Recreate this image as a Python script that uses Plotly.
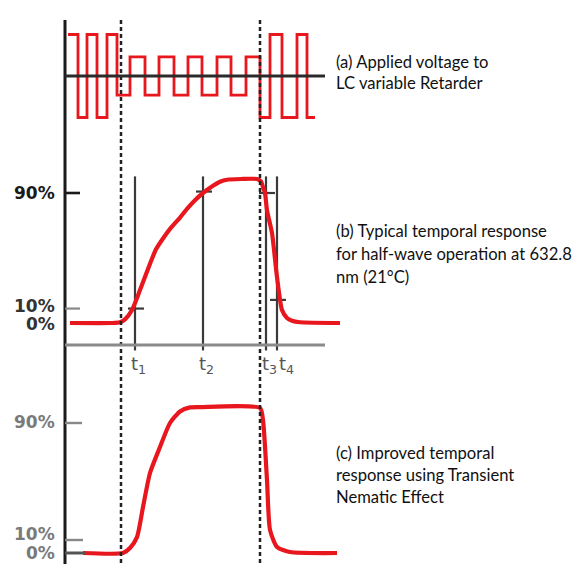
import plotly.graph_objects as go

# ---------------- data ----------------
# (a) applied voltage: square-wave transition times (arbitrary time units) and levels (normalised)
volt_t = [-53, -43, -34, -24, -14, -4, 9, 24, 38, 53, 67, 81, 96, 110, 125, 139, 149, 161, 176, 186, 194]
volt_v = [1, -1, 1, -1, 1, -0.46, 0.46, -0.46, 0.46, -0.46, 0.46, -0.46, 0.46, -0.46, 0.46, -1, 1, -1, 1, -1, -1]

# (b) typical temporal response (%)
resp_b_t = [-51, -9, -1, 4, 11, 19, 29, 35, 42, 50, 59, 66, 74, 82, 92, 99, 106, 120, 136, 140, 142, 144, 146, 151, 156, 161, 166, 171, 179, 219]
resp_b_v = [0, 0, 0.5, 2.5, 9, 22.8, 41, 51, 58.5, 66, 73, 79, 85, 90, 95, 97.8, 99.2, 99.7, 99.7, 98, 94, 90, 78, 62.3, 31.8, 9, 3.5, 1.5, 0.5, 0]

# (c) improved temporal response using transient nematic effect (%)
resp_c_t = [-38, 2, 9, 16, 22, 29, 39, 49, 59, 69, 79, 139, 142, 146, 149, 156, 169, 216]
resp_c_v = [0, 0, 3.5, 11, 31.8, 55.4, 73.4, 90, 98, 100.8, 101, 100.4, 92, 50.5, 16, 4.2, 0.7, 0]

# event times (voltage switching) and response time markers
switch_times = [0, 139]
t_marks = [14, 82, 145, 156]
t_mark_levels = [10, 91, 90, 16]
t_names = ["t<sub>1</sub>", "t<sub>2</sub>", "t<sub>3</sub>", "t<sub>4</sub>"]

pct_names = ["90%", "10%", "0%"]
pct_vals = [90, 10, 0]

a_lines = ["(a) Applied voltage to", "LC variable Retarder"]
b_lines = ["(b) Typical temporal response", "for half-wave operation at 632.8", "nm (21°C)"]
c_lines = ["(c) Improved temporal", "response using Transient", "Nematic Effect"]

# ---------------- layout helpers ----------------
OFF = 8  # page body margin
W, H = 584 - OFF, 564 - OFF
X0 = 121  # reference pixel of time zero
T_AXIS = -56  # time of vertical axis


def ydom(top_px, bot_px):
    return [max(0.0, 1 - (bot_px - OFF) / H), min(1.0, 1 - (top_px - OFF) / H)]


def yrng(top_px, bot_px, zero_px, ppu):
    return [(zero_px - bot_px) / ppu, (zero_px - max(top_px, OFF)) / ppu]


def py(px):
    return 1 - (px - OFF) / H


def pxx(px):
    return (px - OFF) / W


PPU_V = 41.5
PPU_P = 130 / 90.0

RED = "#e8161d"

fig = go.Figure()
fig.add_trace(go.Scatter(x=volt_t, y=volt_v, mode="lines", line=dict(color=RED, width=2.8, shape="hv"),
                         xaxis="x", yaxis="y", hoverinfo="skip"))
fig.add_trace(go.Scatter(x=resp_b_t, y=resp_b_v, mode="lines", line=dict(color=RED, width=4.2, shape="spline", smoothing=0.6),
                         xaxis="x", yaxis="y2", hoverinfo="skip"))
fig.add_trace(go.Scatter(x=resp_c_t, y=resp_c_v, mode="lines", line=dict(color=RED, width=4.2, shape="spline", smoothing=0.6),
                         xaxis="x", yaxis="y3", hoverinfo="skip"))

shapes = []
top_paper = py(20)
# main vertical axis
shapes.append(dict(type="line", xref="x", yref="paper", x0=T_AXIS, x1=T_AXIS, y0=top_paper, y1=0,
                   line=dict(color="#1a1a1a", width=3)))
# dashed switching lines
for st in switch_times:
    shapes.append(dict(type="line", xref="x", yref="paper", x0=st, x1=st, y0=top_paper, y1=0,
                       line=dict(color="#222222", width=2.5, dash="4px,3px")))
# (a) horizontal axis
shapes.append(dict(type="line", xref="x", yref="y", x0=T_AXIS, x1=204, y0=0, y1=0,
                   line=dict(color="#2a2a2a", width=3)))
# (b) time axis
shapes.append(dict(type="line", xref="x", yref="y2", x0=T_AXIS, x1=204, y0=-15.2, y1=-15.2,
                   line=dict(color="#8a8a8a", width=3)))
# t markers
for tm, lv in zip(t_marks, t_mark_levels):
    shapes.append(dict(type="line", xref="x", yref="y2", x0=tm, x1=tm, y0=-19, y1=101.5, layer="below",
                       line=dict(color="#3a3a3a", width=2.2)))
    shapes.append(dict(type="line", xref="x", yref="y2", x0=tm - 7, x1=tm + 9, y0=lv, y1=lv, layer="below",
                       line=dict(color="#3a3a3a", width=2.2)))
# percent ticks (b)
shapes.append(dict(type="line", xref="x", yref="y2", x0=T_AXIS, x1=T_AXIS + 15, y0=90, y1=90,
                   line=dict(color="#1a1a1a", width=2.6)))
shapes.append(dict(type="line", xref="x", yref="y2", x0=T_AXIS, x1=T_AXIS + 15, y0=10, y1=10,
                   line=dict(color="#888888", width=2.2)))
# percent ticks (c)
shapes.append(dict(type="line", xref="x", yref="y3", x0=T_AXIS, x1=T_AXIS + 17, y0=90, y1=90,
                   line=dict(color="#888888", width=2.4)))
shapes.append(dict(type="line", xref="x", yref="y3", x0=T_AXIS, x1=T_AXIS + 18, y0=9, y1=9,
                   line=dict(color="#888888", width=2.4)))
shapes.append(dict(type="line", xref="x", yref="y3", x0=T_AXIS, x1=T_AXIS + 20, y0=0, y1=0,
                   line=dict(color="#555555", width=3)))

annotations = []
# percent labels
pct_font = dict(family="DejaVu Sans", size=17)
shifts_b = [0, 3, -1]
cols_b = ["#1a1a1a", "#333333", "#333333"]
for name, v, sh, c in zip(pct_names, pct_vals, shifts_b, cols_b):
    annotations.append(dict(xref="x", yref="y2", x=T_AXIS - 8, y=v, text="<b>" + name + "</b>", showarrow=False,
                            xanchor="right", yanchor="middle", yshift=sh, font=dict(pct_font, color=c)))
shifts_c = [1, 5, 0]
for name, v, sh in zip(pct_names, pct_vals, shifts_c):
    annotations.append(dict(xref="x", yref="y3", x=T_AXIS - 8, y=v, text="<b>" + name + "</b>", showarrow=False,
                            xanchor="right", yanchor="middle", yshift=sh, font=dict(pct_font, color="#7a7a7a")))
# t labels
for tm, nm in zip(t_marks, t_names):
    annotations.append(dict(xref="x", yref="y2", x=tm - 6 + (6 if nm.endswith("4</sub>") else 0), y=-29, text=nm,
                            showarrow=False, xanchor="left", yanchor="middle",
                            font=dict(family="DejaVu Sans", size=18, color="#555555")))
# descriptions
txt_font = dict(family="Lato", size=16.6, color="#111111")
for lines, ys in ((a_lines, [62, 83]), (b_lines, [231, 254, 277]), (c_lines, [453, 475, 497])):
    for ln, ypx in zip(lines, ys):
        annotations.append(dict(xref="paper", yref="paper", x=pxx(334), y=py(ypx), text=ln, showarrow=False,
                                xanchor="left", yanchor="middle", font=txt_font))

fig.update_layout(
    width=W, height=H, margin=dict(l=0, r=0, t=0, b=0),
    paper_bgcolor="white", plot_bgcolor="white", showlegend=False,
    xaxis=dict(domain=[0, 1], range=[OFF - X0, OFF - X0 + W], visible=False, fixedrange=True),
    yaxis=dict(domain=ydom(OFF, 140), range=yrng(OFF, 140, 76, PPU_V), visible=False, anchor="x"),
    yaxis2=dict(domain=ydom(140, 380), range=yrng(140, 380, 323, PPU_P), visible=False, anchor="x"),
    yaxis3=dict(domain=ydom(380, 564), range=yrng(380, 564, 553, PPU_P), visible=False, anchor="x"),
    shapes=shapes, annotations=annotations,
)

fig.write_html("out.html")
